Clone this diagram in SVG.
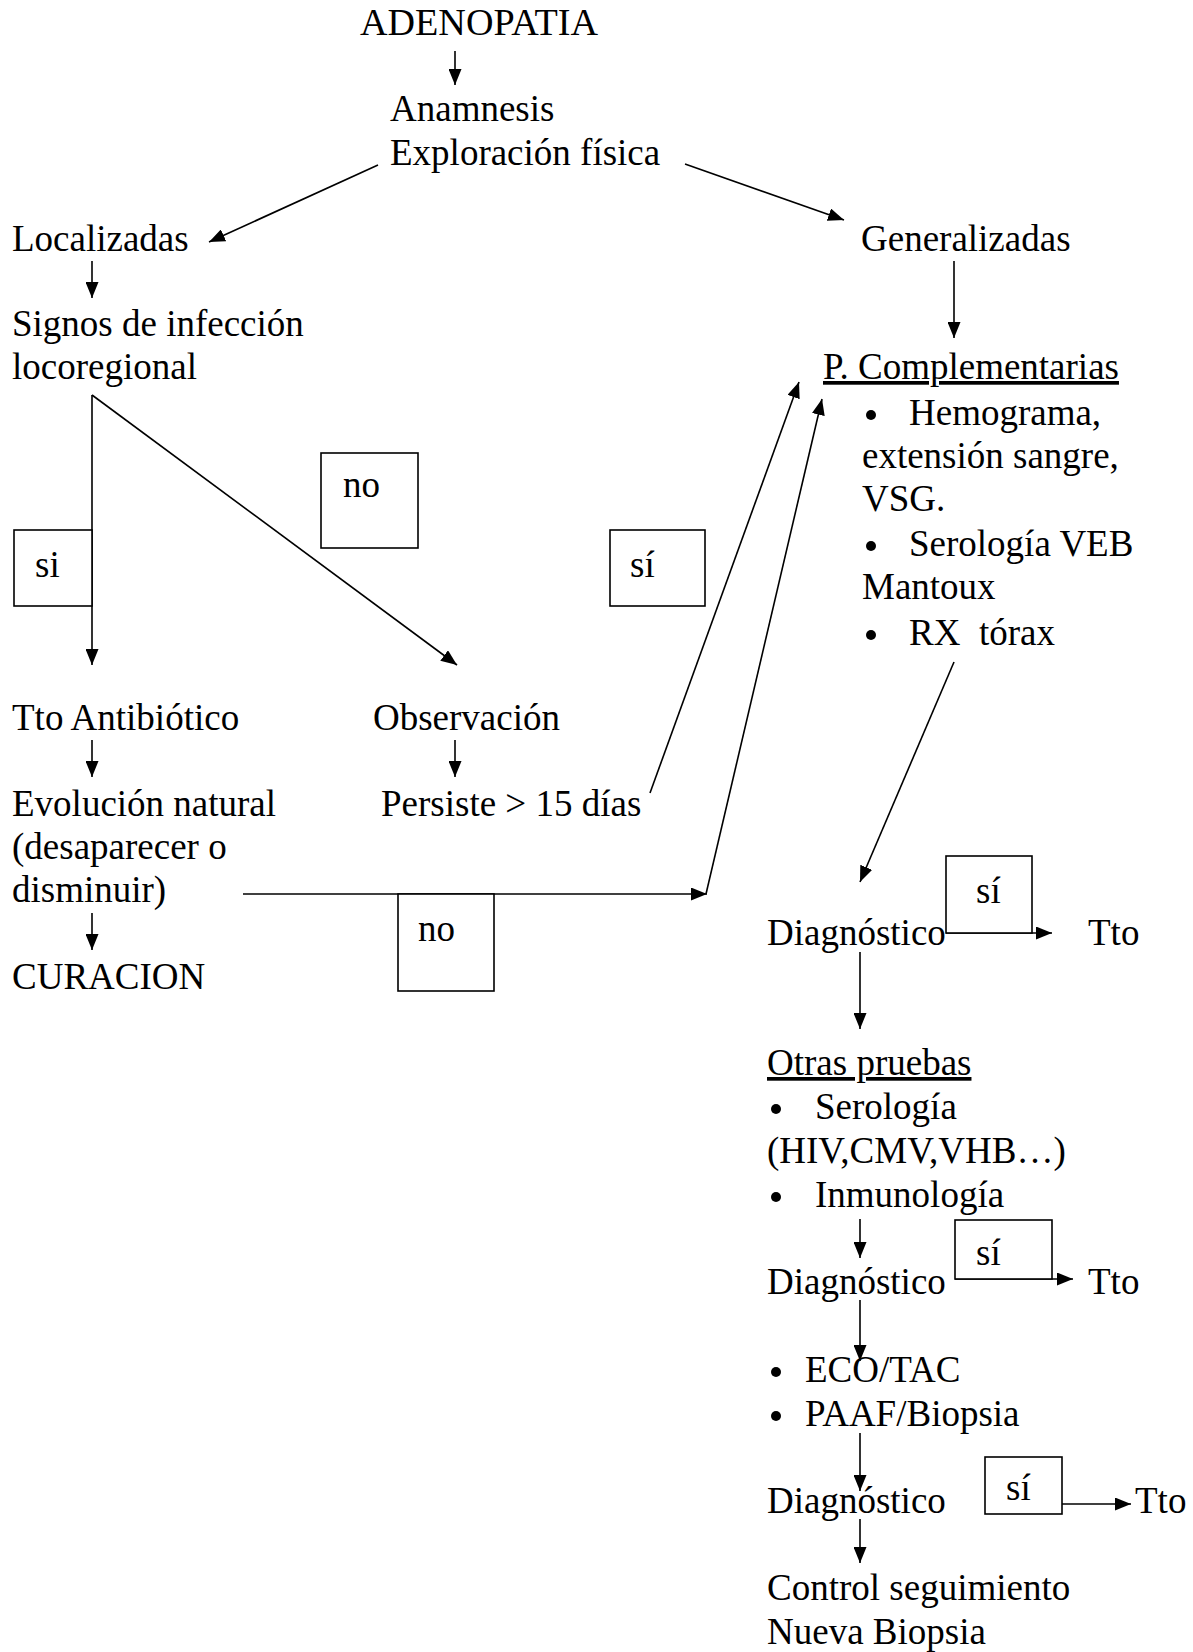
<svg xmlns="http://www.w3.org/2000/svg" width="1193" height="1652" viewBox="0 0 1193 1652">
<style>
text{font-family:"Liberation Serif","Times New Roman",serif;font-size:37px;fill:#000}
.u{text-decoration:underline}
.ln{stroke:#000;stroke-width:1.6;fill:none}
.bx{stroke:#000;stroke-width:1.6;fill:#fff}
.bl{fill:#000}
</style>
<defs>
<marker id="ah" markerUnits="userSpaceOnUse" markerWidth="17" markerHeight="13" refX="16" refY="6.5" orient="auto">
<path d="M0,0 L16,6.5 L0,13 Z" fill="#000"/>
</marker>
</defs>
<rect width="1193" height="1652" fill="#fff"/>
<g id="connectors">
<line class="ln" x1="455" y1="51" x2="455" y2="85" marker-end="url(#ah)"/>
<line class="ln" x1="378" y1="165" x2="209" y2="242" marker-end="url(#ah)"/>
<line class="ln" x1="685" y1="164" x2="844" y2="220" marker-end="url(#ah)"/>
<line class="ln" x1="92" y1="261" x2="92" y2="298" marker-end="url(#ah)"/>
<line class="ln" x1="954" y1="261" x2="954" y2="338" marker-end="url(#ah)"/>
<line class="ln" x1="92" y1="395" x2="92" y2="665" marker-end="url(#ah)"/>
<line class="ln" x1="92" y1="395" x2="457" y2="665" marker-end="url(#ah)"/>
<line class="ln" x1="92" y1="740" x2="92" y2="777" marker-end="url(#ah)"/>
<line class="ln" x1="455" y1="740" x2="455" y2="777" marker-end="url(#ah)"/>
<line class="ln" x1="92" y1="913" x2="92" y2="950" marker-end="url(#ah)"/>
<line class="ln" x1="243" y1="894" x2="707" y2="894" marker-end="url(#ah)"/>
<line class="ln" x1="706" y1="894" x2="822" y2="399" marker-end="url(#ah)"/>
<line class="ln" x1="650" y1="793" x2="799" y2="382" marker-end="url(#ah)"/>
<line class="ln" x1="954" y1="662" x2="860" y2="882" marker-end="url(#ah)"/>
<line class="ln" x1="860" y1="952" x2="860" y2="1029" marker-end="url(#ah)"/>
<line class="ln" x1="946" y1="933" x2="1052" y2="933" marker-end="url(#ah)"/>
<line class="ln" x1="860" y1="1219" x2="860" y2="1258" marker-end="url(#ah)"/>
<line class="ln" x1="955" y1="1279" x2="1073" y2="1279" marker-end="url(#ah)"/>
<line class="ln" x1="860" y1="1300" x2="860" y2="1361" marker-end="url(#ah)"/>
<line class="ln" x1="860" y1="1433" x2="860" y2="1491" marker-end="url(#ah)"/>
<line class="ln" x1="1062" y1="1504" x2="1131" y2="1504" marker-end="url(#ah)"/>
<line class="ln" x1="860" y1="1519" x2="860" y2="1563" marker-end="url(#ah)"/>
</g>
<g id="label-no1"><rect class="bx" x="321" y="453" width="97" height="95"/><text x="343" y="497">no</text></g>
<g id="label-si1"><rect class="bx" x="14" y="530" width="78" height="76"/><text x="35" y="577">si</text></g>
<g id="label-si2"><rect class="bx" x="610" y="530" width="95" height="76"/><text x="630" y="577">sí</text></g>
<g id="label-no2"><rect class="bx" x="398" y="894" width="96" height="97"/><text x="418" y="941">no</text></g>
<g id="label-si3"><rect class="bx" x="946" y="856" width="86" height="77"/><text x="976" y="903">sí</text></g>
<g id="label-si4"><rect class="bx" x="955" y="1220" width="97" height="59"/><text x="976" y="1265">sí</text></g>
<g id="label-si5"><rect class="bx" x="985" y="1457" width="77" height="57"/><text x="1006" y="1500">sí</text></g>
<g id="adenopatia"><text x="360" y="35" textLength="238" lengthAdjust="spacingAndGlyphs">ADENOPATIA</text></g>
<g id="anamnesis"><text x="390" y="121">Anamnesis</text><text x="390" y="165">Exploración física</text></g>
<g id="localizadas"><text x="12" y="251">Localizadas</text></g>
<g id="generalizadas"><text x="861" y="251">Generalizadas</text></g>
<g id="signos"><text x="12" y="336">Signos de infección</text><text x="12" y="379">locoregional</text></g>
<g id="pcomplementarias">
<text class="u" x="823" y="379">P. Complementarias</text>
<circle class="bl" cx="871" cy="415" r="5"/><text x="909" y="425">Hemograma,</text>
<text x="862" y="468">extensión sangre,</text>
<text x="862" y="511">VSG.</text>
<circle class="bl" cx="871" cy="546" r="5"/><text x="909" y="556">Serología VEB</text>
<text x="862" y="599">Mantoux</text>
<circle class="bl" cx="871" cy="635" r="5"/><text x="909" y="645" xml:space="preserve">RX  tórax</text>
</g>
<g id="tto-antibiotico"><text x="12" y="730">Tto Antibiótico</text></g>
<g id="observacion"><text x="373" y="730">Observación</text></g>
<g id="evolucion"><text x="12" y="816">Evolución natural</text><text x="12" y="859">(desaparecer o</text><text x="12" y="902">disminuir)</text></g>
<g id="persiste"><text x="381" y="816">Persiste &gt; 15 días</text></g>
<g id="curacion"><text x="12" y="989">CURACION</text></g>
<g id="diagnostico1"><text x="767" y="945">Diagnóstico</text></g>
<g id="tto1"><text x="1088" y="945">Tto</text></g>
<g id="otras-pruebas">
<text class="u" x="767" y="1075">Otras pruebas</text>
<circle class="bl" cx="776" cy="1109" r="5"/><text x="815" y="1119">Serología</text>
<text x="767" y="1163">(HIV,CMV,VHB…)</text>
<circle class="bl" cx="776" cy="1197" r="5"/><text x="815" y="1207">Inmunología</text>
</g>
<g id="diagnostico2"><text x="767" y="1294">Diagnóstico</text></g>
<g id="tto2"><text x="1088" y="1294">Tto</text></g>
<g id="eco-paaf">
<circle class="bl" cx="776" cy="1372" r="5"/><text x="805" y="1382">ECO/TAC</text>
<circle class="bl" cx="776" cy="1416" r="5"/><text x="805" y="1426">PAAF/Biopsia</text>
</g>
<g id="diagnostico3"><text x="767" y="1513">Diagnóstico</text></g>
<g id="tto3"><text x="1135" y="1513">Tto</text></g>
<g id="control"><text x="767" y="1600">Control seguimiento</text><text x="767" y="1644">Nueva Biopsia</text></g>
</svg>
